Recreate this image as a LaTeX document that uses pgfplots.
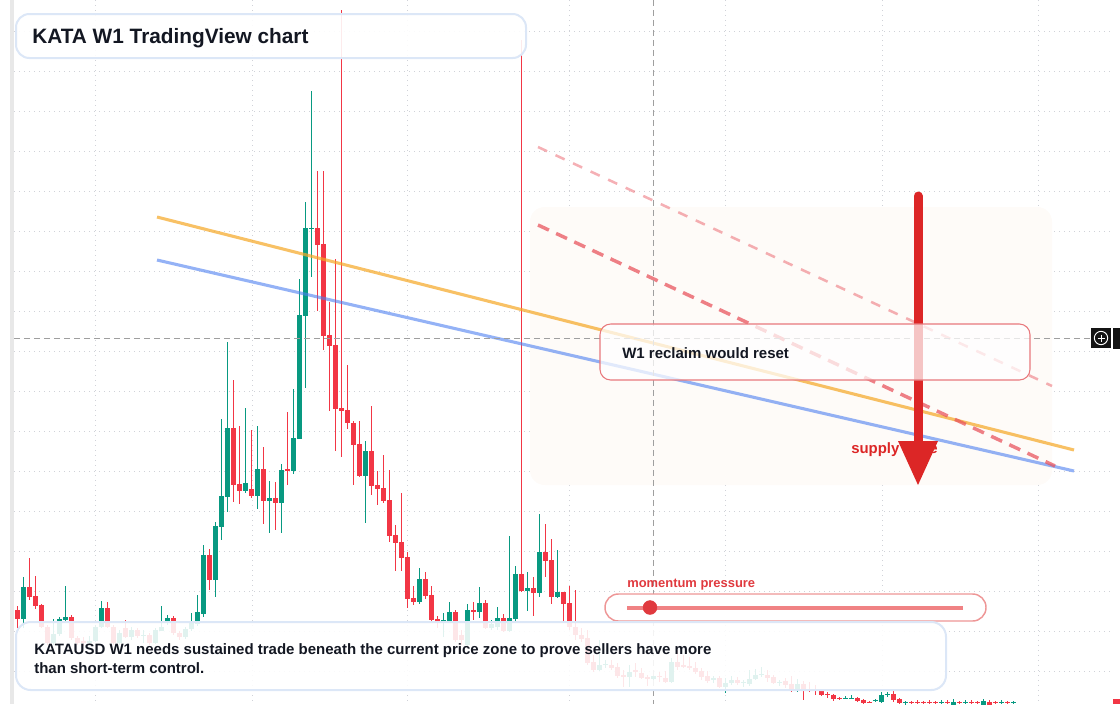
\documentclass[border=0pt]{standalone}
\usepackage{pgfplots}
\pgfplotsset{compat=1.18}
\usepackage{pgfplotstable}
\usepackage{fontspec}
\setmainfont{Liberation Sans}
\definecolor{tvgreen}{HTML}{089981}
\definecolor{tvred}{HTML}{F23645}
\definecolor{txt}{HTML}{131722}
\definecolor{arrowred}{HTML}{DC2626}
\definecolor{lblred}{HTML}{E0393E}
\definecolor{boxblue}{HTML}{DCE7F7}
\definecolor{gridc}{RGB}{208,210,216}
\definecolor{orangeL}{HTML}{F5A623}
\definecolor{blueL}{HTML}{4C7FF0}
\definecolor{dashred}{HTML}{E8505A}
\definecolor{supply}{RGB}{254,251,248}

\pgfplotstableread{
x hi lo bt bb
23 577 628 587 619
53 619 645 634 643
59 617 636 619 634
65 586 621 617 620
89 636 645 641 643
95 625 642 627 641
101 601 628 608 627
119 630 645 633 643
131 627 640 630 637
143 630 643 635 636
155 628 644 630 643
161 606 631 627 631
167 615 625 618 623
185 627 639 629 637
191 613 631 622 629
197 595 626 612 624
203 545 617 555 614
215 522 597 526 580
221 419 540 496 527
227 342 512 428 497
245 408 493 483 491
257 426 509 469 496
269 481 533 498 501
281 464 533 470 503
293 389 474 438 471
299 279 439 315 439
305 202 388 228 316
311 91 277 228 229
365 441 523 451 476
419 568 604 579 602
443 613 637 620 622
449 602 622 612 622
467 604 647 610 645
479 587 618 603 612
491 620 630 624 628
497 607 630 618 627
509 536 632 618 631
515 566 622 574 619
527 572 611 588 591
539 514 597 552 593
557 550 598 592 597
599 640 671 665 670
605 660 668 664 665
629 665 687 672 677
653 674 680 676 679
671 658 683 662 682
713 676 683 678 680
725 678 693 683 687
731 676 685 680 683
743 680 687 682 683
749 670 686 679 684
755 669 680 675 679
761 667 677 674 675
779 680 686 682 683
797 679 692 684 689
845 696 699 698 699
851 695 699 698 699
875 699 702 700 701
881 692 703 695 702
887 692 697 694 695
905 701 705 702 703
941 700 704 702 703
953 699 706 702 705
965 700 704 702 703
983 699 706 701 705
1001 700 704 702 703
1013 701 704 702 703
}\greentab

\pgfplotstableread{
x hi lo bt bb
17 606 628 610 619
29 558 600 587 597
35 576 609 596 606
41 604 628 605 627
47 625 645 627 643
71 615 640 617 638
77 636 645 638 643
83 637 646 641 643
107 602 628 608 627
113 625 645 627 643
125 620 638 628 637
137 628 638 630 636
149 633 645 635 643
173 616 635 618 633
179 631 640 633 637
209 549 590 555 580
233 380 502 428 485
239 426 504 484 491
251 430 498 489 496
263 447 524 469 501
275 482 530 498 503
287 412 485 469 471
317 171 311 228 245
323 171 350 244 336
329 302 411 335 346
335 259 451 345 409
341 10 457 408 411
347 365 429 410 423
353 421 485 423 445
359 421 477 444 476
371 406 495 451 486
377 471 505 485 489
383 455 503 488 501
389 470 542 500 536
395 525 571 535 543
401 493 571 542 558
407 552 608 557 599
413 586 605 598 602
425 572 599 579 596
431 586 622 595 620
437 616 628 619 622
455 610 642 612 640
461 630 645 635 640
473 602 620 610 612
485 600 629 603 628
503 614 632 618 631
521 40 592 574 591
533 577 616 588 593
545 524 577 552 561
551 539 604 560 597
563 592 622 592 604
569 586 630 603 627
575 590 640 627 635
581 628 642 635 639
587 630 665 638 663
593 655 672 662 670
611 660 670 665 668
617 663 678 667 676
623 670 687 675 677
635 663 677 670 672
641 668 679 673 678
647 675 686 677 679
659 672 682 676 677
665 671 683 678 682
677 650 670 662 667
683 655 668 665 667
689 657 670 666 668
695 662 674 668 672
701 668 680 671 677
707 671 683 676 681
719 676 688 678 687
737 677 685 680 683
767 670 682 675 678
773 675 684 677 683
785 678 688 681 685
791 676 692 684 689
803 681 700 684 689
809 682 692 689 691
815 685 695 689 691
821 689 696 691 695
827 692 698 694 695
833 694 701 695 699
839 697 700 698 699
857 697 702 698 701
863 699 704 700 703
869 701 703 702 703
893 690 702 694 700
899 698 704 699 703
911 701 704 702 703
917 700 704 702 703
923 701 704 702 703
929 700 704 702 703
935 701 704 702 703
947 700 704 702 703
959 701 704 702 703
971 700 704 702 703
977 701 704 702 703
989 700 706 702 705
995 701 704 702 703
1007 701 704 702 703
}\redtab

\tikzset{gridl/.style={draw=gridc, line width=0.75pt, dash pattern=on 0.75pt off 3pt}}

\begin{document}
\begin{tikzpicture}
\begin{axis}[width=840pt,height=528pt,scale only axis,
  xmin=0,xmax=1120,ymin=0,ymax=704,y dir=reverse,hide axis,clip=true]
% full-size bounding area
\path (axis cs:0,0) rectangle (axis cs:1120,704);
% left strip
\fill[gray!18] (axis cs:10,0) rectangle (axis cs:14,704);
% grid
\pgfplotsinvokeforeach{31,71,111,151,191,231,271,311,351,391,431,471,511,551,591,631,671}{
  \draw[gridl] (axis cs:14,#1) -- (axis cs:1112,#1);}
\pgfplotsinvokeforeach{95,252,407,569,725,882,1038}{
  \draw[gridl] (axis cs:#1,0) -- (axis cs:#1,704);}
% supply zone
\fill[supply, rounded corners=11pt] (axis cs:530,207) rectangle (axis cs:1052,485);
% candles
\addplot[draw=tvgreen, line width=0.75pt, mark=none, quiver={u=0, v=\thisrow{lo}-\thisrow{hi}, every arrow/.append style={-}}] table[x=x,y=hi] {\greentab};
\addplot[draw=tvgreen, line width=3.75pt, mark=none, quiver={u=0, v=\thisrow{bb}-\thisrow{bt}, every arrow/.append style={-}}] table[x=x,y=bt] {\greentab};
\addplot[draw=tvred, line width=0.75pt, mark=none, quiver={u=0, v=\thisrow{lo}-\thisrow{hi}, every arrow/.append style={-}}] table[x=x,y=hi] {\redtab};
\addplot[draw=tvred, line width=3.75pt, mark=none, quiver={u=0, v=\thisrow{bb}-\thisrow{bt}, every arrow/.append style={-}}] table[x=x,y=bt] {\redtab};
% trend lines
\addplot[draw=orangeL, opacity=0.7, line width=2.3pt, mark=none] coordinates {(157,217) (1074,450)};
\addplot[draw=blueL, opacity=0.6, line width=2.3pt, mark=none] coordinates {(157,260) (1074,471)};
\addplot[draw=dashred, opacity=0.45, line width=1.9pt, dash pattern=on 7.5pt off 7pt, mark=none] coordinates {(538,147) (1052,386)};
\addplot[draw=dashred, opacity=0.72, line width=2.6pt, dash pattern=on 9pt off 6pt, mark=none] coordinates {(538,225) (1055,466)};
% crosshair
\draw[gray!75, line width=0.75pt, dash pattern=on 4.5pt off 3pt] (axis cs:14,338) -- (axis cs:1090,338);
\draw[gray!75, line width=0.75pt, dash pattern=on 4.5pt off 3pt] (axis cs:653,0) -- (axis cs:653,704);
% supply zone label and arrow
\node[anchor=base west, inner sep=0pt, text=arrowred, font=\fontsize{11.2}{13}\selectfont\bfseries] at (axis cs:851,453) {supply zone};
\draw[arrowred, line width=6.75pt, line cap=round] (axis cs:918,196) -- (axis cs:918,443);
\fill[arrowred] (axis cs:898,441) -- (axis cs:938,441) -- (axis cs:918,485) -- cycle;
% W1 box
\draw[draw={rgb,255:red,232;green,120;blue,124}, line width=0.8pt, fill=white, fill opacity=0.73, rounded corners=8pt] (axis cs:600,324) rectangle (axis cs:1030,380);
\node[anchor=base west, inner sep=0pt, text=txt, font=\fontsize{11.25}{13}\selectfont\bfseries] at (axis cs:622,358) {W1 reclaim would reset};
% momentum pill
\node[anchor=base west, inner sep=0pt, text=lblred, font=\fontsize{9.7}{11}\selectfont\bfseries] at (axis cs:627,587) {momentum pressure};
\draw[draw={rgb,255:red,238;green,150;blue,150}, line width=1.1pt, fill=white, rounded corners=10pt] (axis cs:605,594) rectangle (axis cs:986,621);
\draw[draw={rgb,255:red,240;green,130;blue,132}, line width=3pt] (axis cs:627,607.5) -- (axis cs:963,607.5);
\addplot[only marks, mark=*, mark size=5.2pt, mark options={draw=lblred, fill=lblred}] coordinates {(650,607.5)};
% bottom text box
\draw[draw=boxblue, line width=1.5pt, fill=white, fill opacity=0.88, rounded corners=11pt] (axis cs:16,622) rectangle (axis cs:946,690);
\node[anchor=base west, inner sep=0pt, text=txt, font=\fontsize{11.25}{13}\selectfont\bfseries] at (axis cs:34,654) {KATAUSD W1 needs sustained trade beneath the current price zone to prove sellers have more};
\node[anchor=base west, inner sep=0pt, text=txt, font=\fontsize{11.25}{13}\selectfont\bfseries] at (axis cs:34,673) {than short-term control.};
% title box
\draw[draw=boxblue, line width=1.5pt, fill=white, fill opacity=0.9, rounded corners=10pt] (axis cs:16,14) rectangle (axis cs:526,58);
\node[anchor=base west, inner sep=0pt, text=txt, font=\fontsize{15.6}{18}\selectfont\bfseries] at (axis cs:32,43) {KATA W1 TradingView chart};
% right side buttons
\fill[black!92] (axis cs:1091,328) rectangle (axis cs:1111,348);
\draw[white, line width=0.7pt] (axis cs:1101,338) circle (5pt);
\draw[white, line width=0.7pt] (axis cs:1097.5,338) -- (axis cs:1104.5,338) (axis cs:1101,334.5) -- (axis cs:1101,341.5);
\fill[black!92] (axis cs:1113,328) rectangle (axis cs:1120,349);
\fill[tvred] (axis cs:1113,699) rectangle (axis cs:1120,704);
\end{axis}
\end{tikzpicture}
\end{document}
